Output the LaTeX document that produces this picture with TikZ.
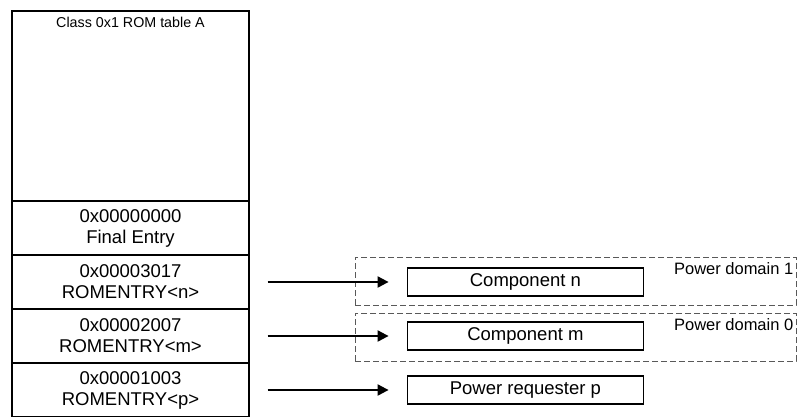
\documentclass[tikz,border=0pt]{standalone}
\usepackage{fontspec}
\setmainfont{Liberation Sans}
\usetikzlibrary{positioning,arrows.meta}

\begin{document}
\begin{tikzpicture}[x=1pt, y=-1pt,
  romhead/.style={draw, line width=1.2pt, minimum width=237pt, minimum height=190pt, inner sep=0pt},
  romrow/.style={draw, line width=1.2pt, minimum width=237pt, minimum height=54pt, inner sep=0pt,
    align=center, font=\fontsize{18.5}{21}\selectfont},
  compbox/.style={draw, line width=1.6pt, minimum width=236pt, minimum height=28pt, inner sep=0pt,
    font=\fontsize{18.5}{21}\selectfont},
  domainbox/.style={draw=black!65, line width=1pt, dash pattern=on 6pt off 3pt,
    minimum width=441pt, minimum height=48pt, inner sep=0pt},
  domainlabel/.style={anchor=north east, inner sep=0pt, font=\fontsize{16.5}{18}\selectfont},
  entryarrow/.style={line width=2pt, -{Triangle[length=11pt,width=11pt]},
    shorten <=18pt, shorten >=18pt}
]

  \useasboundingbox (0,0) rectangle (804,416);

  % ROM table, header block and one row per entry
  \node[romhead] (head) at (130.5,106) {};
  \node[below=7pt of head.north, inner sep=0pt, font=\fontsize{14.3}{16}\selectfont] (title) {Class 0x1 ROM table A};

  \foreach \name/\addr/\entry [count=\i] in {final/0x00000000/Final Entry,
      rown/0x00003017/ROMENTRY<n>, rowm/0x00002007/ROMENTRY<m>, rowp/0x00001003/ROMENTRY<p>}{
    \node[romrow] (\name) at (130.5,{174+54*\i}) {\addr\\\entry};
  }

  % Power domains
  \node[domainbox] (dom1) at (575.5,281) {};
  \node[domainbox] (dom0) at (575.5,337) {};
  \node[domainlabel] (pd1) at ([xshift=-3pt,yshift=-6pt]dom1.north east) {Power domain 1};
  \node[domainlabel] (pd0) at ([xshift=-3pt,yshift=-6pt]dom0.north east) {Power domain 0};

  % Components pointed to by the entries
  \node[compbox, right=157pt of rown] (compn) {Component n};
  \node[compbox, right=157pt of rowm] (compm) {Component m};
  \node[compbox, right=157pt of rowp] (compp) {Power requester p};

  \foreach \from/\to in {rown/compn, rowm/compm, rowp/compp}{
    \draw[entryarrow] (\from) -- (\to);
  }

\end{tikzpicture}
\end{document}
